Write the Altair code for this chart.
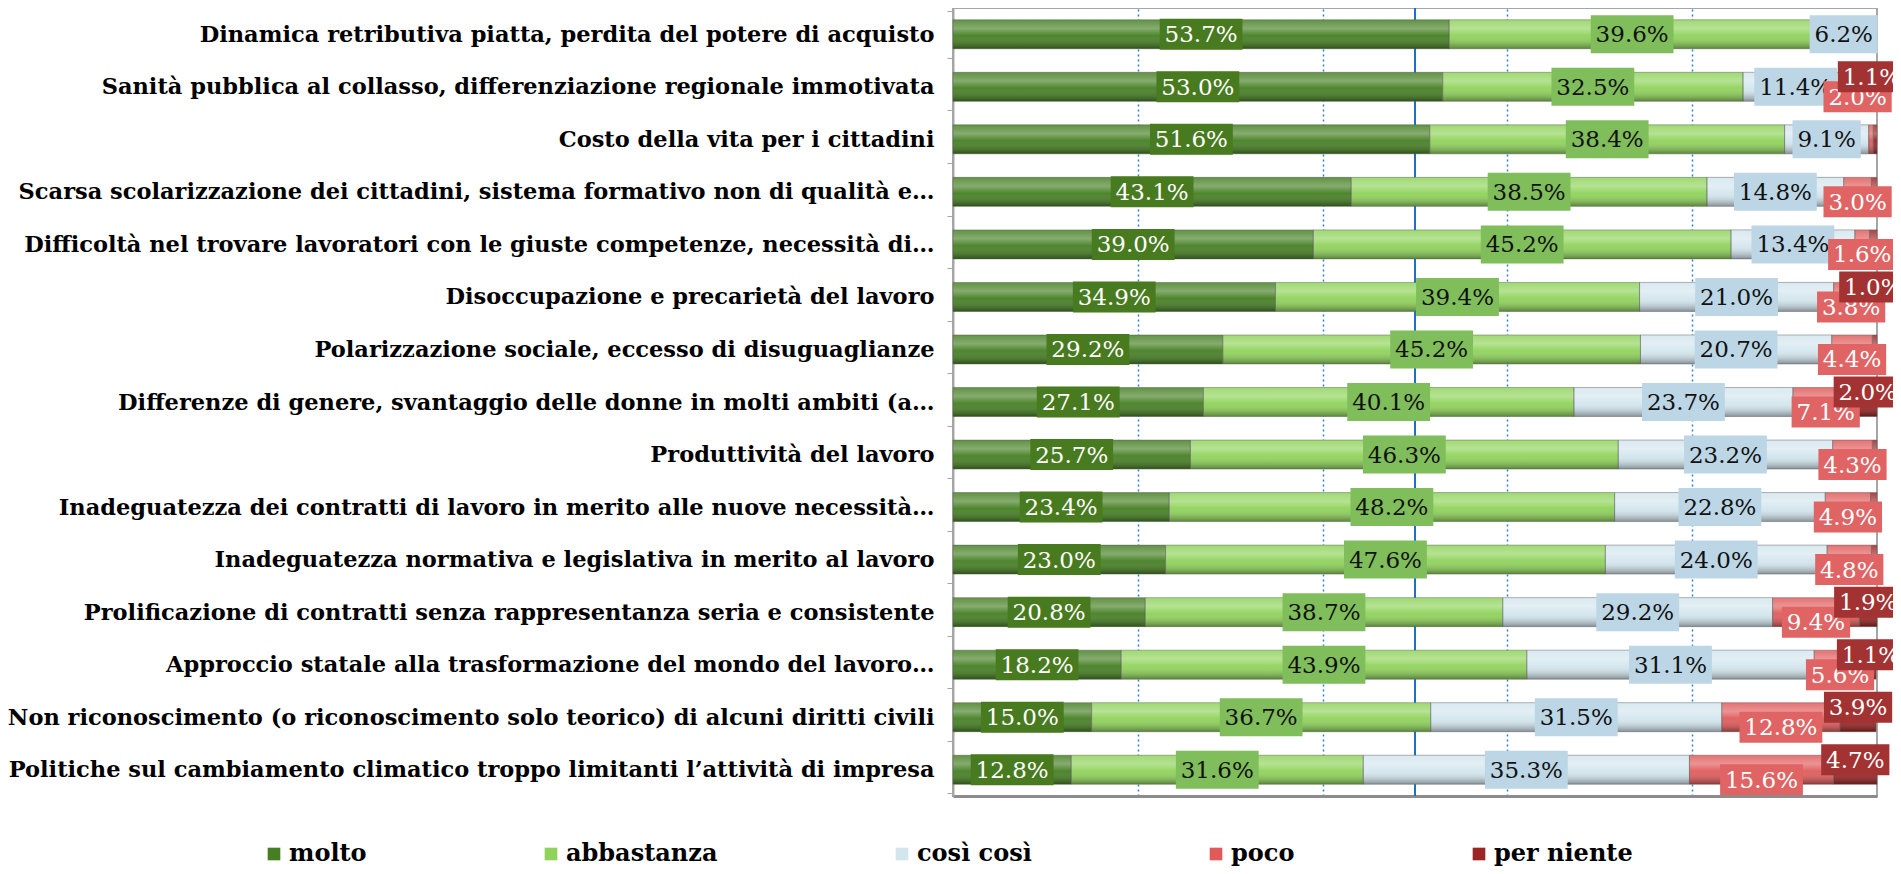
import altair as alt
import pandas as pd

items = [
    "Dinamica retributiva piatta, perdita del potere di acquisto",
    "Sanità pubblica al collasso, differenziazione regionale immotivata",
    "Costo della vita per i cittadini",
    "Scarsa scolarizzazione dei cittadini, sistema formativo non di qualità e…",
    "Difficoltà nel trovare lavoratori con le giuste competenze, necessità di…",
    "Disoccupazione e precarietà del lavoro",
    "Polarizzazione sociale, eccesso di disuguaglianze",
    "Differenze di genere, svantaggio delle donne in molti ambiti (a…",
    "Produttività del lavoro",
    "Inadeguatezza dei contratti di lavoro in merito alle nuove necessità…",
    "Inadeguatezza normativa e legislativa in merito al lavoro",
    "Prolificazione di contratti senza rappresentanza seria e consistente",
    "Approccio statale alla trasformazione del mondo del lavoro…",
    "Non riconoscimento (o riconoscimento solo teorico) di alcuni diritti civili",
    "Politiche sul cambiamento climatico troppo limitanti l’attività di impresa",
]
molto = [53.7, 53.0, 51.6, 43.1, 39.0, 34.9, 29.2, 27.1, 25.7, 23.4, 23.0, 20.8, 18.2, 15.0, 12.8]
abbastanza = [39.6, 32.5, 38.4, 38.5, 45.2, 39.4, 45.2, 40.1, 46.3, 48.2, 47.6, 38.7, 43.9, 36.7, 31.6]
cosi_cosi = [6.2, 11.4, 9.1, 14.8, 13.4, 21.0, 20.7, 23.7, 23.2, 22.8, 24.0, 29.2, 31.1, 31.5, 35.3]
poco = [0.4, 2.0, 0.5, 3.0, 1.6, 3.8, 4.4, 7.1, 4.3, 4.9, 4.8, 9.4, 5.6, 12.8, 15.6]
per_niente = [0.1, 1.1, 0.4, 0.6, 0.8, 1.0, 0.5, 2.0, 0.5, 0.7, 0.6, 1.9, 1.1, 3.9, 4.7]
series = ["molto", "abbastanza", "così così", "poco", "per niente"]

bar_colors = ["#457f22", "#8fd35a", "#d3e6ee", "#e05a5a", "#9b2424"]
box_colors = ["#487a1f", "#80bd5b", "#bcd6e5", "#e06464", "#a33232"]
text_colors = ["#ffffff", "#111111", "#111111", "#ffffff", "#ffffff"]
box_heights = [31, 38, 38, 31, 31]
label_shift = [0, 0, 0, 10, -10]

values = [molto, abbastanza, cosi_cosi, poco, per_niente]
rows = []
for i, it in enumerate(items):
    cum = 0.0
    for s, vals in zip(series, values):
        v = vals[i]
        rows.append({"item": it, "series": s, "value": v, "start": cum, "end": cum + v,
                     "mid": cum + v / 2})
        cum += v
df = pd.DataFrame(rows)

PLOT_W = 924
PLOT_H = 788
BAR_H = 29

x_axis = alt.Axis(values=[20, 40, 60, 80], labels=False, ticks=False, title=None, grid=True,
                  gridColor="#2f7fcf", gridDash=[2, 3], gridWidth=1.5,
                  domainColor="#8c8c8c", domainWidth=3)
x_scale = alt.Scale(domain=[0, 100], nice=False, zero=True)
y_axis = alt.Axis(title=None, labelFont="DejaVu Serif", labelFontWeight="bold", labelFontSize=22.5,
                  labelColor="black", labelLimit=1000, labelPadding=13, tickSize=6,
                  tickColor="#a6a6a6", tickBand="extent", domainColor="#a6a6a6", domainWidth=2,
                  grid=False)


def X(field):
    return alt.X(field, type="quantitative", scale=x_scale, axis=x_axis, title=None)


def Y():
    return alt.Y("item:N", sort=items, axis=y_axis, title=None)


base = alt.Chart(df)

rule50 = alt.Chart(df).mark_rule(color="#1f70c1", strokeWidth=1.5).encode(
    x=alt.X(datum=50, type="quantitative", scale=x_scale, axis=x_axis, title=None)
)

bars = base.mark_bar(height=BAR_H).encode(
    x=X("start"), x2="end", y=Y(),
    color=alt.Color("series:N", scale=alt.Scale(domain=series, range=bar_colors),
                    legend=alt.Legend(orient="none", legendX=-691, legendY=834,
                                      direction="horizontal", title=None,
                                      labelFont="DejaVu Serif", labelFontWeight="bold",
                                      labelFontSize=24, labelColor="black",
                                      symbolType="square", symbolSize=160,
                                      symbolStrokeWidth=0, columnPadding=172, labelOffset=3,
                                      padding=0, labelLimit=400)),
)

gloss = base.mark_bar(
    height=BAR_H,
    stroke="rgba(90,90,90,0.45)", strokeWidth=1,
    color={"gradient": "linear", "x1": 0, "x2": 0, "y1": 0, "y2": 1,
           "stops": [{"offset": 0, "color": "rgba(255,255,255,0.15)"},
                     {"offset": 0.3, "color": "rgba(255,255,255,0.35)"},
                     {"offset": 0.55, "color": "rgba(255,255,255,0.05)"},
                     {"offset": 1, "color": "rgba(0,0,0,0.38)"}]},
).encode(x=X("start"), x2="end", y=Y())

layers = [rule50, bars, gloss]
for s, bc, tc, bh, sh in zip(series, box_colors, text_colors, box_heights, label_shift):
    sub = base.transform_filter(
        (alt.datum.series == s) & (alt.datum.value >= 1)
    ).transform_calculate(
        label="format(datum.value, '.1f') + '%'"
    ).transform_calculate(
        hw="(14.6*(length(datum.label)-2)+39)/2*100/" + str(PLOT_W)
    ).transform_calculate(
        bx0="datum.mid - datum.hw", bx1="datum.mid + datum.hw"
    )
    box = sub.mark_bar(height=bh, yOffset=sh, color=bc).encode(
        x=X("bx0"), x2="bx1", y=Y()
    )
    txt = sub.mark_text(font="DejaVu Serif", fontSize=23, color=tc, dy=sh + 1,
                        align="center", baseline="middle").encode(
        x=X("mid"), y=Y(), text="label:N"
    )
    layers += [box, txt]

chart = alt.layer(*layers).properties(
    width=PLOT_W, height=PLOT_H,
    autosize=alt.AutoSizeParams(type="none"),
    padding={"left": 945, "top": 0, "right": 16, "bottom": 70},
    background="white",
).configure_view(stroke="#a6a6a6", strokeWidth=2)

chart.save("out.html", embed_options={"renderer": "svg", "actions": False})
